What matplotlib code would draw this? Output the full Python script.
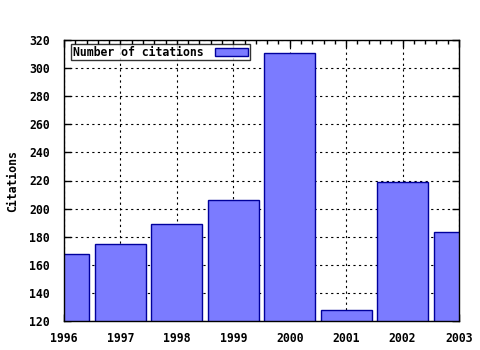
import matplotlib
matplotlib.use("Agg")
import matplotlib.pyplot as plt
from matplotlib.ticker import MultipleLocator
from matplotlib.patches import Patch

years = [1996, 1997, 1998, 1999, 2000, 2001, 2002, 2003]
citations = [168, 175, 189, 206, 311, 128, 219, 183]

plt.rcParams['font.family'] = ['DejaVu Sans Mono']
plt.rcParams['font.weight'] = 'bold'

fig = plt.figure(figsize=(4.8, 3.5), dpi=100)
ax = fig.add_axes([64/480, 1-321/350, (459-64)/480, (321-40)/350])
ax.set_axisbelow(True)
ax.bar(years, citations, width=0.9, color='#7b7bff', edgecolor='#00009c', linewidth=1, zorder=2,
       label='Number of citations')
ax.set_xlim(1996, 2003)
ax.set_ylim(120, 320)
ax.xaxis.set_major_locator(MultipleLocator(1))
ax.xaxis.set_minor_locator(MultipleLocator(0.2))
ax.yaxis.set_major_locator(MultipleLocator(20))
ax.grid(True, which='major', color='black', linestyle=(0, (2, 3)), linewidth=0.8, zorder=0)
ax.tick_params(which='both', direction='in', top=True, right=True, labelsize=8.3, width=1, color='black')
ax.tick_params(which='major', length=5)
ax.tick_params(which='minor', length=3)
ax.tick_params(axis='y', pad=10)
ax.tick_params(axis='x', pad=8)
for lab in ax.get_xticklabels() + ax.get_yticklabels():
    lab.set_fontweight('bold')
ax.set_ylabel('Citations', fontsize=8.3, fontweight='bold')
ax.yaxis.set_label_coords((19 - 64) / 395, 1 - (181 - 40) / 281)
leg = ax.legend(handles=[Patch(facecolor='#7b7bff', edgecolor='#00009c')], labels=['Number of citations'],
                loc='upper left', bbox_to_anchor=(7/395, 1-4/281), fontsize=8.3, frameon=True, fancybox=False,
                markerfirst=False, handlelength=2.9, handleheight=0.7, handletextpad=1.0,
                borderpad=0.15, borderaxespad=0)
leg.get_frame().set_edgecolor('black')
leg.get_frame().set_linewidth(1)
for t in leg.get_texts():
    t.set_fontweight('bold')
for s in ax.spines.values():
    s.set_linewidth(1)
fig.savefig('out.png', dpi=100)
